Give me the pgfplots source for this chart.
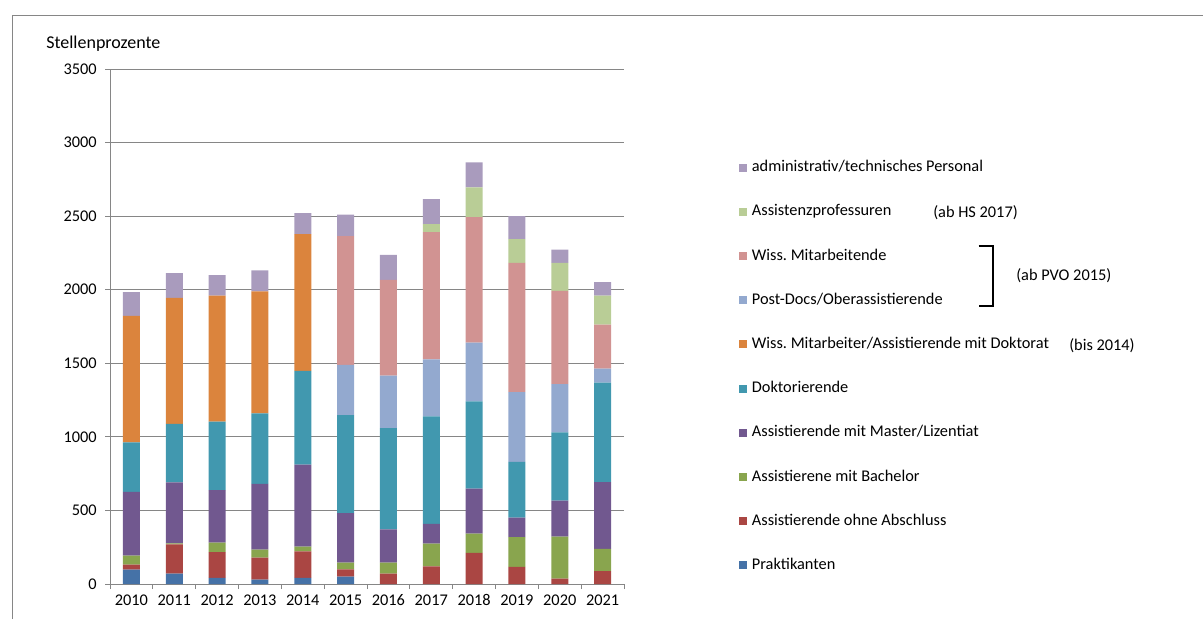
\documentclass[border=0pt]{standalone}
\usepackage{fontspec}
\setmainfont{Carlito}
\usepackage{pgfplots}
\usepackage{pgfplotstable}
\pgfplotsset{compat=1.18}

\definecolor{gridgray}{HTML}{868686}
\definecolor{cPrakt}{HTML}{4572A7}
\definecolor{cOhne}{HTML}{AA4643}
\definecolor{cBach}{HTML}{89A54E}
\definecolor{cMaster}{HTML}{71588F}
\definecolor{cDokt}{HTML}{4198AF}
\definecolor{cWissDok}{HTML}{DB843D}
\definecolor{cPostdoc}{HTML}{93A9CF}
\definecolor{cWissMa}{HTML}{D19392}
\definecolor{cAsstProf}{HTML}{B9CD96}
\definecolor{cAdmin}{HTML}{A99BBD}

% Stellenprozente je Personalkategorie, 2010 (x=0) bis 2021 (x=11)
\pgfplotstableread{
x  prakt ohne bach master dokt wissdok postdoc wissma asstprof admin
0  98    34   61   433    336  860     0       0      0        161
1  70    200  7    413    399  856     0       0      0        167
2  41    175  65   357    465  857     0       0      0        139
3  30    149  55   447    478  829     0       0      0        143
4  41    181  32   558    636  930     0       0      0        143
5  51    48   47   336    665  0       343     874    0        147
6  0     70   75   227    688  0       356     651    0        170
7  0     120  155  133    731  0       388     864    55       170
8  0     211  132  306    592  0       399     854    201      171
9  0     116  202  133    379  0       474     879    161      156
10 0     36   286  245    463  0       329     633    191      90
11 0     88   150  454    676  0       95      300    197      91
}\staff

\begin{document}
\frenchspacing
\fontsize{12.25pt}{14.7pt}\selectfont
\begin{tikzpicture}
\path[use as bounding box] (0,0) rectangle (902.25pt,-464.25pt);
% Rahmen
\draw[gridgray, line width=0.75pt] (9pt,-464.25pt) -- (9pt,-11.25pt) -- (902.25pt,-11.25pt);
\node[anchor=west, inner sep=0pt, font=\fontsize{13.5pt}{16pt}\selectfont] at (34.5pt,-33pt) {Stellenprozente};

\begin{axis}[
  at={(82.5pt,-438pt)}, anchor=south west,
  scale only axis, width=385.5pt, height=386.25pt,
  ybar stacked, bar width=12.75pt,
  xmin=-0.5, xmax=11.5, ymin=0, ymax=3500,
  xtick={-0.5,0.5,...,11.5},
  xticklabels={2010,2011,2012,2013,2014,2015,2016,2017,2018,2019,2020,2021},
  x tick label as interval,
  ytick={0,500,...,3500},
  ymajorgrids,
  axis lines*=left,
  axis line style={gridgray, line width=0.75pt},
  major grid style={gridgray, line width=0.75pt},
  tick style={gridgray, line width=0.75pt},
  tick align=outside, major tick length=3.75pt,
  /pgf/number format/assume math mode=true,
  /pgf/number format/1000 sep={},
  yticklabel style={xshift=-2pt},
  tick label style={black},
  reverse legend,
  legend cell align=left,
  legend image code/.code={\fill[#1] (0pt,-3pt) rectangle (6pt,3pt);},
  legend style={at={(1.2237,0.8233)}, anchor=north west, draw=none, fill=none,
    inner sep=0pt, row sep=22.15pt, column sep=3.5pt,
    nodes={inner sep=0pt, text height=8.5pt, text depth=2.5pt}},
]
\addplot[fill=cPrakt, draw=none]    table[x=x, y=prakt]    {\staff};
\addplot[fill=cOhne, draw=none]     table[x=x, y=ohne]     {\staff};
\addplot[fill=cBach, draw=none]     table[x=x, y=bach]     {\staff};
\addplot[fill=cMaster, draw=none]   table[x=x, y=master]   {\staff};
\addplot[fill=cDokt, draw=none]     table[x=x, y=dokt]     {\staff};
\addplot[fill=cWissDok, draw=none]  table[x=x, y=wissdok]  {\staff};
\addplot[fill=cPostdoc, draw=none]  table[x=x, y=postdoc]  {\staff};
\addplot[fill=cWissMa, draw=none]   table[x=x, y=wissma]   {\staff};
\addplot[fill=cAsstProf, draw=none] table[x=x, y=asstprof] {\staff};
\addplot[fill=cAdmin, draw=none]    table[x=x, y=admin]    {\staff};
\legend{Praktikanten, Assistierende ohne Abschluss, Assistierene mit Bachelor,
  Assistierende mit Master/Lizentiat, Doktorierende,
  Wiss. Mitarbeiter/Assistierende mit Doktorat, Post-Docs/Oberassistierende,
  Wiss. Mitarbeitende, Assistenzprofessuren, administrativ/technisches Personal}
\end{axis}

% Hinweise zur Gliederung
\node[anchor=west, inner sep=0pt] at (699.75pt,-159.2pt) {(ab HS 2017)};
\node[anchor=west, inner sep=0pt] at (762pt,-206.8pt) {(ab PVO 2015)};
\node[anchor=west, inner sep=0pt] at (801.75pt,-259.5pt) {(bis 2014)};
\draw[black, line width=1.2pt] (734pt,-184.3pt) -- (744.75pt,-184.3pt) -- (744.75pt,-229.3pt) -- (734pt,-229.3pt);
\end{tikzpicture}
\end{document}
